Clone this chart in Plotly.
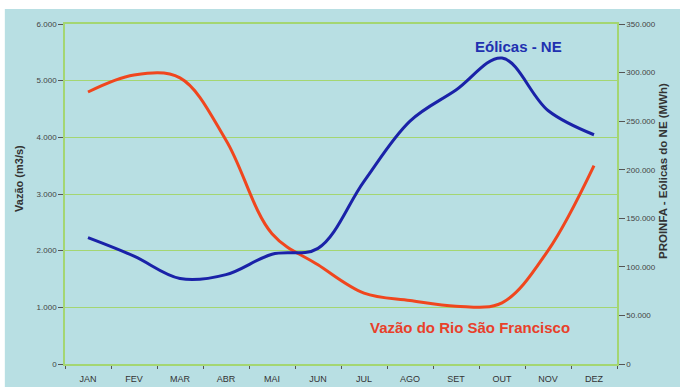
import plotly.graph_objects as go

# Meses do ano
meses = ["JAN", "FEV", "MAR", "ABR", "MAI", "JUN", "JUL", "AGO", "SET", "OUT", "NOV", "DEZ"]

# Vazão média mensal do Rio São Francisco (m3/s)
vazao = [4800, 5100, 5050, 3950, 2300, 1750, 1250, 1120, 1020, 1080, 2000, 3500]

# Geração eólica PROINFA no Nordeste (MWh)
eolicas = [130000, 111000, 88000, 92000, 113000, 119000, 188000, 250000, 282000, 315000, 261000, 236000]

# Rótulos dos eixos
vazao_ticks = [0, 1000, 2000, 3000, 4000, 5000, 6000]
vazao_labels = ["0", "1.000", "2.000", "3.000", "4.000", "5.000", "6.000"]
eolicas_ticks = [0, 50000, 100000, 150000, 200000, 250000, 300000, 350000]
eolicas_labels = ["0", "50.000", "100.000", "150.000", "200.000", "250.000", "300.000", "350.000"]

BG = "#b8dfe3"
GREEN = "#a4d672"
ORANGE = "#f0461e"
BLUE = "#1a22a8"
FONT = "Liberation Sans, Arial, sans-serif"

fig = go.Figure()

fig.add_trace(go.Scatter(
    x=meses, y=vazao, mode="lines", name="Vazão do Rio São Francisco",
    line=dict(color=ORANGE, width=3, shape="spline", smoothing=1.0),
    yaxis="y",
))
fig.add_trace(go.Scatter(
    x=meses, y=eolicas, mode="lines", name="Eólicas - NE",
    line=dict(color=BLUE, width=3, shape="spline", smoothing=1.0),
    yaxis="y2",
))


def rotulo(texto, x, y, size, color, angle=0):
    return dict(text=texto, xref="paper", yref="paper", x=x, y=y,
                xanchor="center", yanchor="middle", textangle=angle,
                showarrow=False, font=dict(size=size, color=color, family=FONT))


fig.update_layout(
    width=680, height=387,
    margin=dict(l=65, r=63, t=24, b=23, autoexpand=False),
    paper_bgcolor="white",
    plot_bgcolor=BG,
    showlegend=False,
    font=dict(family=FONT, color="#444444"),
    xaxis=dict(
        type="category", range=[-0.5, 11.5], automargin=False,
        showline=True, linecolor=GREEN, linewidth=1.5, mirror=True,
        showgrid=False, ticks="outside", tickson="boundaries",
        ticklen=3, tickcolor="#555555", ticklabelstandoff=5,
        tickfont=dict(size=9, color="#333333"),
    ),
    yaxis=dict(
        range=[0, 6000], tickvals=vazao_ticks, ticktext=vazao_labels,
        automargin=False,
        showline=True, linecolor=GREEN, linewidth=1.5,
        showgrid=True, gridcolor=GREEN, gridwidth=1.2, zeroline=False,
        ticks="outside", ticklen=5, tickcolor="#555555",
        tickfont=dict(size=8, color="#444444"),
    ),
    yaxis2=dict(
        range=[0, 350000], tickvals=eolicas_ticks, ticktext=eolicas_labels,
        overlaying="y", side="right", automargin=False,
        showline=True, linecolor=GREEN, linewidth=1.5,
        showgrid=False, zeroline=False,
        ticks="outside", ticklen=6, tickcolor="#555555",
        tickfont=dict(size=8, color="#444444"),
    ),
    shapes=[
        dict(type="rect", xref="paper", yref="paper", layer="below",
             x0=-0.109, x1=1.2, y0=-0.2, y1=1.044,
             fillcolor=BG, line=dict(width=0)),
    ],
    annotations=[
        rotulo("<b>Eólicas - NE</b>", 0.821, 0.933, 15, "#2030b0"),
        rotulo("<b>Vazão do Rio São Francisco</b>", 0.733, 0.106, 15, "#e8402a"),
        rotulo("<b>Vazão (m3/s)</b>", -0.083, 0.545, 11, "#333333", -90),
        rotulo("<b>PROINFA - Eólicas do NE (MWh)</b>", 1.083, 0.567, 11.5, "#333333", -90),
    ],
)

fig.write_html("out.html")
